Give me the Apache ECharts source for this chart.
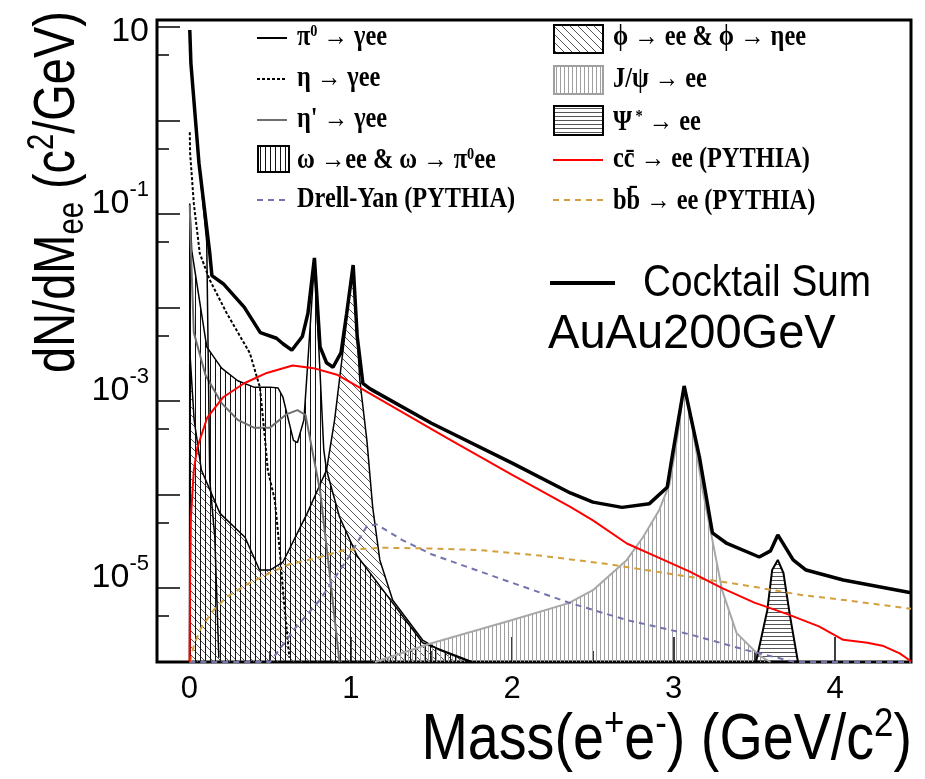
<!DOCTYPE html>
<html><head><meta charset="utf-8">
<script src="https://cdn.jsdelivr.net/npm/echarts@6/dist/echarts.min.js"></script>
<style>html,body{margin:0;padding:0;background:#fff}#c{width:925px;height:779px}</style>
</head><body><div id="c"></div>
<script>
// ---------- data: [mass (GeV/c^2), dN/dMee] ----------
const sumData = [[0.003,9.3],[0.01,4.1],[0.06,0.35],[0.127,0.038],[0.14,0.022],[0.21,0.018],[0.34,0.0101],[0.44,0.0054],[0.54,0.0047],[0.58,0.0041],[0.635,0.0035],[0.70,0.0049],[0.735,0.0087],[0.775,0.034],[0.81,0.0038],[0.85,0.00257],[0.89,0.0023],[0.94,0.0033],[0.975,0.0087],[1.015,0.0285],[1.04,0.0049],[1.075,0.00155],[1.12,0.00135],[1.5,5.8e-4],[2.0,2.17e-4],[2.36,1.04e-4],[2.5,8.3e-5],[2.68,7.3e-5],[2.85,8.0e-5],[2.96,1.2e-4],[2.99,2.5e-4],[3.065,1.45e-3],[3.16,2.5e-4],[3.24,3.9e-5],[3.33,3.0e-5],[3.53,2.15e-5],[3.6,2.5e-5],[3.645,3.7e-5],[3.74,2.0e-5],[3.82,1.56e-5],[4.05,1.22e-5],[4.47,8.9e-6]];
const pi0Data = [[0.003,9.3],[0.01,4.1],[0.06,0.35],[0.108,0.05],[0.127,1.4e-4],[0.158,3.5e-5],[0.183,1.8e-6]];
const etaData = [[0.003,0.75],[0.005,0.45],[0.028,0.13],[0.065,0.038],[0.127,0.0197],[0.232,0.0087],[0.375,0.00326],[0.437,0.00141],[0.468,4.1e-4],[0.486,1.83e-4],[0.53,8.7e-5],[0.56,2.55e-5],[0.58,9.5e-6],[0.62,1.8e-6]];
const etaPrimeData = [[0.003,0.125],[0.01,0.041],[0.028,5.4e-3],[0.1,1.9e-3],[0.2,9.5e-4],[0.3,6.3e-4],[0.4,5.2e-4],[0.5,5.2e-4],[0.6,7.2e-4],[0.67,8.0e-4],[0.72,7.1e-4],[0.77,2.5e-4],[0.81,1.1e-4],[0.87,1.4e-5],[0.93,1.62e-6]];
const omegaData = [[0.002,1.62e-6],[0.003,0.13],[0.015,0.041],[0.108,3.8e-3],[0.2,2.25e-3],[0.3,1.65e-3],[0.4,1.41e-3],[0.5,1.41e-3],[0.55,1.38e-3],[0.58,1.1e-3],[0.645,3.8e-4],[0.67,3.6e-4],[0.71,6.3e-4],[0.735,2.75e-3],[0.775,0.031],[0.81,2.0e-3],[0.833,3.0e-4],[0.85,1.83e-4],[0.93,5.8e-5],[1.04,2.2e-5],[1.2,9.5e-6],[1.445,2.6e-6],[1.755,1.62e-6]];
const phiData = [[0.002,1.62e-6],[0.003,3.5e-3],[0.03,6.3e-4],[0.075,1.83e-4],[0.19,6.3e-5],[0.345,3.5e-5],[0.435,1.56e-5],[0.5,1.56e-5],[0.58,1.9e-5],[0.73,6.3e-5],[0.85,1.83e-4],[0.9,6.3e-4],[0.96,4.5e-3],[1.0,0.0197],[1.015,0.027],[1.056,1.68e-3],[1.1,3.8e-4],[1.136,7.3e-5],[1.18,2.0e-5],[1.26,7.4e-6],[1.445,2.78e-6],[1.55,2.17e-6],[1.74,1.62e-6]];
const jpsiData = [[1.15,1.62e-6],[1.5,2.57e-6],[2.0,4.55e-6],[2.35,6.9e-6],[2.5,9.5e-6],[2.71,2.0e-5],[2.81,3.5e-5],[2.91,6.8e-5],[2.975,1.3e-4],[3.02,3.8e-4],[3.065,1.4e-3],[3.115,5.4e-4],[3.18,1.1e-4],[3.24,3.26e-5],[3.3,9.5e-6],[3.39,3.3e-6],[3.53,1.9e-6],[3.6,1.62e-6]];
const psiPrimeData = [[3.51,1.62e-6],[3.58,5.8e-6],[3.61,1.56e-5],[3.645,2.0e-5],[3.68,1.45e-5],[3.72,5.1e-6],[3.77,1.62e-6]];
const ccbarData = [[0.002,1.62e-6],[0.005,1.3e-5],[0.01,5.7e-5],[0.028,1.83e-4],[0.05,3.2e-4],[0.11,6.6e-4],[0.21,1.1e-3],[0.34,1.55e-3],[0.48,2.0e-3],[0.64,2.4e-3],[0.77,2.25e-3],[0.92,1.9e-3],[1.12,1.2e-3],[1.6,4.0e-4],[2.0,1.62e-4],[2.36,7.4e-5],[2.5,5.3e-5],[2.71,3.0e-5],[2.91,2.1e-5],[3.1,1.5e-5],[3.3,1.0e-5],[3.5,7.0e-6],[3.7,5.3e-6],[3.9,3.9e-6],[4.05,2.8e-6],[4.2,2.6e-6],[4.3,2.4e-6],[4.4,2.0e-6],[4.47,1.65e-6]];
const bbbarData = [[0.005,1.62e-6],[0.03,2.5e-6],[0.075,3.8e-6],[0.15,5.8e-6],[0.23,8.0e-6],[0.36,1.1e-5],[0.48,1.4e-5],[0.62,1.8e-5],[0.79,2.1e-5],[0.96,2.55e-5],[1.2,2.7e-5],[1.5,2.65e-5],[1.8,2.55e-5],[2.2,2.2e-5],[2.6,1.8e-5],[3.0,1.4e-5],[3.4,1.1e-5],[3.8,8.4e-6],[4.1,7.3e-6],[4.47,6.0e-6]];
const drellYanData = [[0.0,1.62e-6],[0.5,1.62e-6],[0.66,3.8e-6],[0.81,7.5e-6],[0.995,2.25e-5],[1.1,4.6e-5],[1.16,4.8e-5],[1.32,3.26e-5],[1.5,2.3e-5],[1.95,1.22e-5],[2.35,7.0e-6],[2.71,4.55e-6],[3.1,3.2e-6],[3.45,2.17e-6],[3.75,1.62e-6],[4.47,1.62e-6]];

// ---------- axes / ticks ----------
const xMin = -0.2, xMax = 4.47;
const yMin = 1.62e-6, yMax = 11.9;
const xMajorTicks = [0, 1, 2, 3, 4];
const xMinorTicks = [0.5, 1.5, 2.5, 3.5];
const yMajorTicks = [10, 1, 0.1, 0.01, 0.001, 1e-4, 1e-5];
const yMinorTicks = [5, 0.5, 0.05, 0.005, 5e-4, 5e-5, 5e-6];
const yLabelValues = [10, 0.1, 0.001, 1e-5];

const SANS = "'Liberation Sans', Arial, Helvetica, sans-serif";
const NARROW = "'Liberation Sans Narrow', 'Arial Narrow', 'Liberation Sans', sans-serif";
const SERIF = "'Liberation Serif', 'Times New Roman', serif";

function hatch(kind, color, step) {
  const c = document.createElement('canvas');
  c.width = step; c.height = step;
  const g = c.getContext('2d');
  g.strokeStyle = color; g.lineWidth = 1;
  g.beginPath();
  if (kind === 'v') { g.moveTo(0.5, 0); g.lineTo(0.5, step); }
  else if (kind === 'h') { g.moveTo(0, 0.5); g.lineTo(step, 0.5); }
  else { for (let k = -1; k <= 1; k++) { g.moveTo(k * step, 0); g.lineTo(k * step + step, step); } }
  g.stroke();
  return { image: c, repeat: 'repeat' };
}
const patOmega = hatch('v', '#111', 5);
const patPhi = hatch('d', '#555', 8);
const patJpsi = hatch('v', '#a0a0a0', 4);
const patPsi = hatch('h', '#555', 4);

function areaSeries(name, data, pat, stroke, w) {
  return { name, type: 'line', data, symbol: 'none', clip: true, silent: true,
    itemStyle: { color: stroke }, lineStyle: { color: stroke, width: w },
    areaStyle: { color: pat, origin: 'start', opacity: 1 }, z: 2 };
}
function lineSeries(name, data, color, w, dash, z) {
  return { name, type: 'line', data, symbol: 'none', clip: true, silent: true,
    itemStyle: { color }, lineStyle: { color, width: w, type: dash || 'solid' }, z: z || 3 };
}

const chart = echarts.init(document.getElementById('c'), null, { renderer: 'canvas' });

function supText(v) {
  const e = Math.round(Math.log10(v));
  if (e === 1) return '{t|10}';
  return '{b|10}{s|' + e + '}';
}

const graphics = [];
// left legend
const L1x = 257, L1w = 30, T1x = 297;
const leg = (x, y, text) => ({ type: 'text', x, y, scaleX: 0.84, z: 100,
  style: { text, fill: '#000', align: 'left', verticalAlign: 'middle', textAlign: 'left', textVerticalAlign: 'middle',
    fontFamily: SERIF, fontWeight: 'bold', fontSize: 29,
    rich: { n: { fontFamily: SERIF, fontWeight: 'bold', fontSize: 29, fill: '#000' },
            p: { fontFamily: SERIF, fontWeight: 'bold', fontSize: 17, fill: '#000', verticalAlign: 'top', lineHeight: 22 } } } });
graphics.push({ type: 'line', z: 100, shape: { x1: L1x, y1: 38, x2: L1x + L1w, y2: 38 }, style: { stroke: '#000', lineWidth: 2 } });
graphics.push(leg(T1x, 38, '{n|π}{p|0}{n| → γee}'));
graphics.push({ type: 'line', z: 100, shape: { x1: L1x, y1: 79, x2: L1x + L1w, y2: 79 }, style: { stroke: '#000', lineWidth: 2, lineDash: [3, 2] } });
graphics.push(leg(T1x, 79, '{n|η → γee}'));
graphics.push({ type: 'line', z: 100, shape: { x1: L1x, y1: 120, x2: L1x + L1w, y2: 120 }, style: { stroke: '#6e6e6e', lineWidth: 2 } });
graphics.push(leg(T1x, 120, "{n|η' → γee}"));
graphics.push({ type: 'rect', z: 100, shape: { x: 258, y: 146, width: 31, height: 26 }, style: { fill: patOmega, stroke: '#000', lineWidth: 2 } });
graphics.push(leg(T1x, 161, '{n|ω →ee & ω → π}{p|0}{n|ee}'));
graphics.push({ type: 'line', z: 100, shape: { x1: L1x, y1: 200, x2: L1x + L1w, y2: 200 }, style: { stroke: '#7373ae', lineWidth: 2, lineDash: [6, 5] } });
graphics.push(leg(T1x, 200, '{n|Drell-Yan (PYTHIA)}'));
// right legend
const R1x = 553, R1w = 50, T2x = 613;
graphics.push({ type: 'rect', z: 100, shape: { x: 554, y: 25, width: 49, height: 28 }, style: { fill: patPhi, stroke: '#000', lineWidth: 2 } });
graphics.push(leg(T2x, 38, '{n|\u03d5 → ee & \u03d5 → ηee}'));
graphics.push({ type: 'rect', z: 100, shape: { x: 554, y: 66, width: 49, height: 28 }, style: { fill: patJpsi, stroke: '#a0a0a0', lineWidth: 2 } });
graphics.push(leg(T2x, 80, '{n|J/ψ → ee}'));
graphics.push({ type: 'rect', z: 100, shape: { x: 554, y: 106, width: 49, height: 29 }, style: { fill: patPsi, stroke: '#000', lineWidth: 2 } });
graphics.push(leg(T2x, 123, '{n|Ψ}{p| *}{n| → ee}'));
graphics.push({ type: 'line', z: 100, shape: { x1: R1x, y1: 160, x2: R1x + R1w, y2: 160 }, style: { stroke: '#ff0000', lineWidth: 2 } });
graphics.push(leg(T2x, 160, '{n|cc\u0304 → ee (PYTHIA)}'));
graphics.push({ type: 'line', z: 100, shape: { x1: R1x, y1: 200, x2: R1x + R1w, y2: 200 }, style: { stroke: '#d4a03c', lineWidth: 2, lineDash: [6, 5] } });
graphics.push(leg(T2x, 202, '{n|bb\u0304 → ee (PYTHIA)}'));
// Cocktail sum legend & label
graphics.push({ type: 'line', z: 100, shape: { x1: 550, y1: 283, x2: 615, y2: 283 }, style: { stroke: '#000', lineWidth: 4 } });
graphics.push({ type: 'text', x: 643, y: 284, scaleX: 0.86, z: 100, style: { text: 'Cocktail Sum', fill: '#000', align: 'left', verticalAlign: 'middle', textAlign: 'left', textVerticalAlign: 'middle', fontFamily: SANS, fontSize: 45 } });
graphics.push({ type: 'text', x: 548, y: 335, scaleX: 0.98, z: 100, style: { text: 'AuAu200GeV', fill: '#000', align: 'left', verticalAlign: 'middle', textAlign: 'left', textVerticalAlign: 'middle', fontFamily: SANS, fontSize: 48 } });
// axis titles
graphics.push({ type: 'text', x: 58, y: 192, rotation: Math.PI / 2, scaleX: 0.81, z: 100,
  style: { text: '{a|dN/dM}{s|ee}{a| (c}{p|2}{a|/GeV)}', fill: '#000', align: 'center', verticalAlign: 'middle', textAlign: 'center', textVerticalAlign: 'middle',
    rich: { a: { fontFamily: SANS, fontSize: 58, fill: '#000', lineHeight: 66 },
            s: { fontFamily: SANS, fontSize: 36, fill: '#000', verticalAlign: 'bottom' },
            p: { fontFamily: SANS, fontSize: 36, fill: '#000', verticalAlign: 'top' } } } });
graphics.push({ type: 'text', x: 912, y: 741, scaleX: 0.87, z: 100,
  style: { text: '{a|Mass(e}{p|+}{a|e}{p|-}{a|) (GeV/c}{p|2}{a|)}', fill: '#000', align: 'right', verticalAlign: 'middle', textAlign: 'right', textVerticalAlign: 'middle',
    rich: { a: { fontFamily: SANS, fontSize: 64, fill: '#000', lineHeight: 72 },
            p: { fontFamily: SANS, fontSize: 40, fill: '#000', verticalAlign: 'top' } } } });

const noLine = { show: false, onZero: false };
const option = {
  animation: false,
  backgroundColor: '#fff',
  grid: { left: 157, right: 14, top: 20, bottom: 117, show: true, borderColor: '#000', borderWidth: 3, backgroundColor: 'transparent' },
  xAxis: [
    { type: 'value', min: xMin, max: xMax, position: 'bottom', splitLine: { show: false }, axisLine: noLine,
      axisTick: { show: true, inside: true, length: 25, customValues: xMajorTicks, lineStyle: { color: '#000', width: 1.5 } },
      axisLabel: { customValues: xMajorTicks, fontFamily: NARROW, fontSize: 31, color: '#000', margin: 12 } },
    { type: 'value', min: xMin, max: xMax, position: 'bottom', splitLine: { show: false }, axisLine: noLine,
      axisTick: { show: true, inside: true, length: 11, customValues: xMinorTicks, lineStyle: { color: '#000', width: 1.5 } },
      axisLabel: { show: false } }
  ],
  yAxis: [
    { type: 'log', logBase: 10, min: yMin, max: yMax, position: 'left', splitLine: { show: false }, axisLine: noLine,
      axisTick: { show: true, inside: true, length: 23, customValues: yMajorTicks, lineStyle: { color: '#000', width: 1.5 } },
      axisLabel: { customValues: yLabelValues, formatter: supText, color: '#000', margin: 8,
        rich: { t: { fontFamily: SANS, fontSize: 34, color: '#000', padding: [10, 0, 0, 0] },
                b: { fontFamily: SANS, fontSize: 34, color: '#000', padding: [8, 0, 28, 0] },
                s: { fontFamily: SANS, fontSize: 22, color: '#000', verticalAlign: 'top' } } } },
    { type: 'log', logBase: 10, min: yMin, max: yMax, position: 'left', splitLine: { show: false }, axisLine: noLine,
      axisTick: { show: true, inside: true, length: 12, customValues: yMinorTicks, lineStyle: { color: '#000', width: 1.5 } },
      axisLabel: { show: false } }
  ],
  series: [
    areaSeries('phi', phiData, patPhi, '#000', 1.5),
    areaSeries('omega', omegaData, patOmega, '#000', 1.5),
    areaSeries('jpsi', jpsiData, patJpsi, '#a8a8a8', 2),
    areaSeries('psiprime', psiPrimeData, patPsi, '#000', 2),
    lineSeries('etaprime', etaPrimeData, '#6e6e6e', 2),
    lineSeries('eta', etaData, '#000', 2, [3, 2]),
    lineSeries('pi0', pi0Data, '#000', 1.5),
    lineSeries('dy', drellYanData, '#7373ae', 2, [6, 5]),
    lineSeries('bb', bbbarData, '#d4a03c', 2, [6, 5]),
    lineSeries('cc', ccbarData, '#ff0000', 2),
    lineSeries('sum', sumData, '#000', 3.5, null, 5)
  ],
  graphic: graphics
};
chart.setOption(option);
</script>
</body></html>
